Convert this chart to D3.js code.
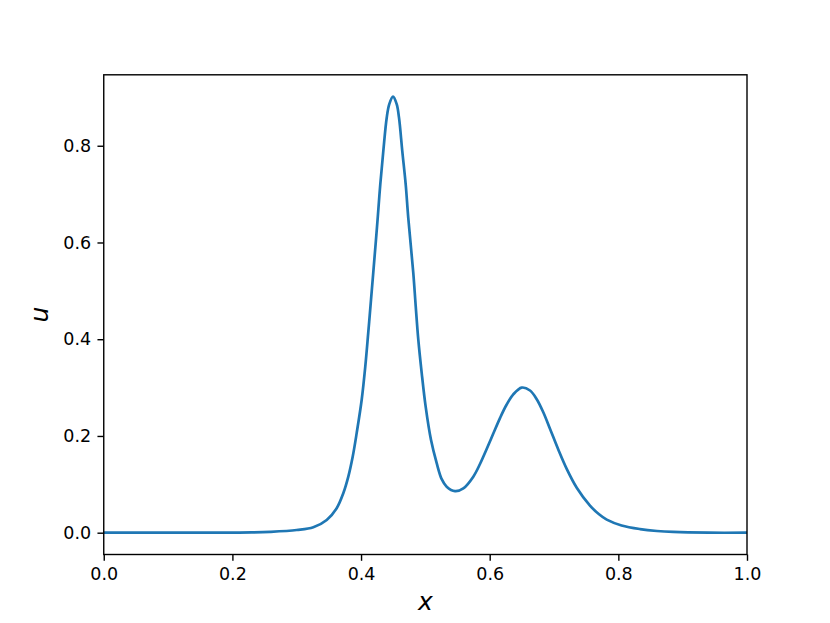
<!DOCTYPE html>
<html>
<head>
<meta charset="utf-8">
<script src="https://cdn.jsdelivr.net/npm/d3@7"></script>
<style>
  body { margin: 0; background: #fff; }
  svg { display: block; }
  .tick text { font-family: "DejaVu Sans", sans-serif; font-size: 17.5px; fill: #000; }
  .tick line { stroke: #000; stroke-width: 1.4; }
  .domain { display: none; }
</style>
</head>
<body>
<div id="drawingArea"></div>
<script>
// curve
var xs = [
  0.000, 0.060, 0.120, 0.180, 0.230, 0.2585, 0.300, 0.3258, 0.3466, 0.3621, 0.3724, 0.3802,
  0.3870, 0.3932, 0.4010, 0.4066, 0.4112, 0.4155, 0.4228, 0.4259, 0.4299, 0.4346,
  0.4399, 0.4439, 0.4497, 0.4554, 0.4590, 0.4641, 0.4694, 0.4734, 0.4812, 0.4850,
  0.4890, 0.4943, 0.5005, 0.5087, 0.5176, 0.5254, 0.5331, 0.5461, 0.5590, 0.5745,
  0.5849, 0.5953, 0.6056, 0.6160, 0.6264, 0.6367, 0.6497, 0.6627, 0.6731, 0.6833,
  0.6937, 0.7066, 0.7197, 0.7353, 0.7559, 0.7700, 0.7819, 0.8050, 0.8336, 0.8600,
  0.8854, 0.9400, 1.000
];
var us = [
  0.000, 0.000, 0.000, 0.000, 0.0006, 0.0018, 0.0056, 0.0112, 0.0263, 0.0505, 0.0816, 0.116,
  0.157, 0.2058, 0.2748, 0.3438, 0.4136, 0.4819, 0.5993, 0.651, 0.720, 0.789,
  0.858, 0.886, 0.9016, 0.886, 0.858, 0.789, 0.720, 0.651, 0.5371, 0.468,
  0.3991, 0.3301, 0.260, 0.192, 0.1437, 0.1106, 0.0952, 0.0861, 0.0917, 0.1159,
  0.1420, 0.1730, 0.2050, 0.2370, 0.2650, 0.2860, 0.3000, 0.2940, 0.2760, 0.2490,
  0.2150, 0.1720, 0.1320, 0.0930, 0.0560, 0.0380, 0.0270, 0.0150, 0.0075, 0.0035,
  0.0015, 0.000, 0.000
];
var xTicks = [0.0, 0.2, 0.4, 0.6, 0.8, 1.0];
var yTicks = [0.0, 0.2, 0.4, 0.6, 0.8];

function drawGraph() {
    var W = 830, H = 623;
    var margin = {top: 74.8, right: 83, bottom: 68.5, left: 103.75},
        width = W - margin.left - margin.right,
        height = H - margin.top - margin.bottom;

    var data = xs.map(function(x, i) { return {x: x, u: us[i]}; });

    // matplotlib style 5% margins on y
    var umin = d3.min(us), umax = d3.max(us), pad = (umax - umin) * 0.05;

    var x = d3.scaleLinear().domain([0, 1]).range([0, width]);
    var y = d3.scaleLinear().domain([umin - pad, umax + pad]).range([height, 0]);

    var svg = d3.select("#drawingArea").append("svg")
        .attr("width", W)
        .attr("height", H)
        .append("g")
        .attr("transform", "translate(" + margin.left + "," + margin.top + ")");

    svg.append("clipPath").attr("id", "clip")
        .append("rect").attr("width", width).attr("height", height);

    var line = d3.line()
        .x(function(d) { return x(d.x); })
        .y(function(d) { return y(d.u); })
        .curve(d3.curveCatmullRom.alpha(0.5));

    svg.append("path")
        .datum(data)
        .attr("clip-path", "url(#clip)")
        .attr("fill", "none")
        .attr("stroke", "#1f77b4")
        .attr("stroke-width", 2.7)
        .attr("stroke-linejoin", "round")
        .attr("stroke-linecap", "square")
        .attr("d", line);

    // x axis
    svg.append("g")
        .attr("transform", "translate(0," + height + ")")
        .call(d3.axisBottom(x).tickValues(xTicks).tickFormat(d3.format(".1f"))
            .tickSize(6.3).tickPadding(6.3));

    // y axis
    svg.append("g")
        .call(d3.axisLeft(y).tickValues(yTicks).tickFormat(d3.format(".1f"))
            .tickSize(6.3).tickPadding(6.3));

    // frame
    svg.append("rect")
        .attr("width", width)
        .attr("height", height)
        .attr("fill", "none")
        .attr("stroke", "#000")
        .attr("stroke-width", 1.4);

    svg.append("text")
        .attr("x", width / 2)
        .attr("y", height + 55.5)
        .attr("text-anchor", "middle")
        .style("font-family", "DejaVu Sans, sans-serif")
        .style("font-style", "italic")
        .style("font-size", "25px")
        .text("x");

    svg.append("text")
        .attr("transform", "translate(" + (48.3 - margin.left) + "," + (height / 2) + ") rotate(-90)")
        .attr("text-anchor", "middle")
        .style("font-family", "DejaVu Sans, sans-serif")
        .style("font-style", "italic")
        .style("font-size", "25px")
        .text("u");
}

drawGraph();
</script>
</body>
</html>
